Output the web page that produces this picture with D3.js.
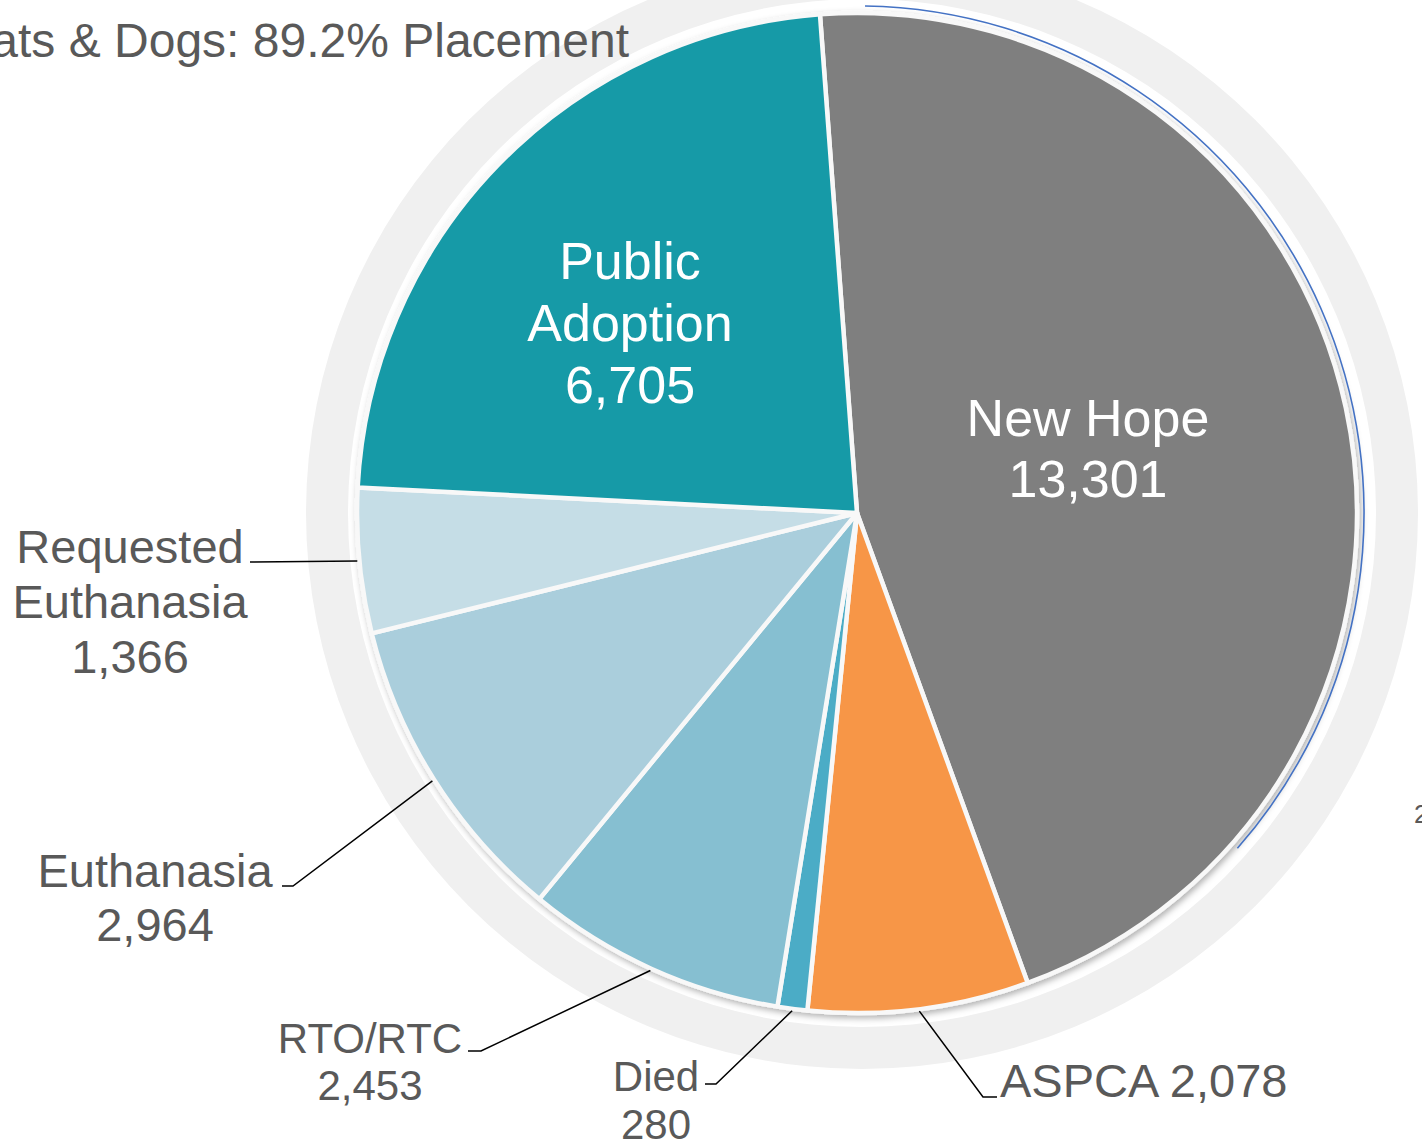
<!DOCTYPE html>
<html>
<head>
<meta charset="utf-8">
<script src="https://cdn.jsdelivr.net/npm/d3@7"></script>
<style>
  body { margin: 0; background: #fff; }
  svg { display: block; font-family: "Liberation Sans", Arial, sans-serif; }
</style>
</head>
<body>
<div id="svganchor"></div>
<script>
// Data
var categories = ["New Hope", "ASPCA", "Died", "RTO/RTC", "Euthanasia", "Requested Euthanasia", "Public Adoption"];
var values = [13301, 2078, 280, 2453, 2964, 1366, 6705];
var labelLines = [["New Hope"], ["ASPCA"], ["Died"], ["RTO/RTC"], ["Euthanasia"], ["Requested", "Euthanasia"], ["Public", "Adoption"]];
var title = "Cats & Dogs: 89.2% Placement";

// Styles
var colors = ["#7f7f7f", "#f79646", "#4bacc6", "#86bfd1", "#aacedc", "#c5dde6", "#169aa7"];

// Measurement
var w = 1422, h = 1142;
var cx = 857, cy = 513, radius = 500;
var startDeg = -4.25;

// label layout: x, first baseline, font size, line step, value on same line?
var labelLayout = [
	{ x: 1088, y: 436, size: 52, step: 61, inside: true },
	{ x: 1000, y: 1097, size: 47, step: 54, inline: true, anchor: "start", elbow: [983, 1097], end: [997, 1097] },
	{ x: 656, y: 1091, size: 42, step: 48, elbow: [716, 1084], end: [705, 1084] },
	{ x: 370, y: 1053, size: 42, step: 47, elbow: [481, 1051], end: [468, 1051] },
	{ x: 155, y: 887, size: 47, step: 54, elbow: [293, 886], end: [282, 886] },
	{ x: 130, y: 563, size: 47, step: 55, elbow: [300, 562], end: [250, 562] },
	{ x: 630, y: 279, size: 52, step: 62, inside: true }
];

var svg = d3.select("#svganchor")
	.append("svg")
	.attr("width", w)
	.attr("height", h);

var defs = svg.append("defs");
defs.append("filter")
	.attr("id", "shadow")
	.attr("x", "-10%").attr("y", "-10%")
	.attr("width", "120%").attr("height", "120%")
	.append("feDropShadow")
	.attr("dx", 2)
	.attr("dy", 3)
	.attr("stdDeviation", 3)
	.attr("flood-color", "#000")
	.attr("flood-opacity", 0.3);

// background ring
var ring = d3.arc()
	.innerRadius(514)
	.outerRadius(556)
	.startAngle(0)
	.endAngle(2 * Math.PI);

svg.append("path")
	.attr("transform", "translate(862,513)")
	.attr("d", ring)
	.attr("fill", "#f0f0f0");

// Title (clipped on the left like the source)
svg.append("text")
	.attr("x", 629)
	.attr("y", 57)
	.attr("text-anchor", "end")
	.attr("font-size", 48)
	.attr("fill", "#595959")
	.text(title);

// cut-off text on the right edge
svg.append("text")
	.attr("x", 1414)
	.attr("y", 823)
	.attr("font-size", 26)
	.attr("fill", "#595959")
	.text("2");

var pie = d3.pie()
	.sort(null)
	.startAngle(startDeg * Math.PI / 180)
	.endAngle((startDeg + 360) * Math.PI / 180);

var arcs = pie(values);

var arc = d3.arc()
	.innerRadius(0)
	.outerRadius(radius);

var edge = d3.arc()
	.innerRadius(radius + 2)
	.outerRadius(radius + 2);

var g = svg.append("g")
	.attr("transform", "translate(" + cx + "," + cy + ")");

var slices = g.append("g")
	.attr("filter", "url(#shadow)");

slices.selectAll("path")
	.data(arcs)
	.enter()
	.append("path")
	.attr("d", arc)
	.attr("fill", function(d, i) { return colors[i]; })
	.attr("stroke", "#f8f8f8")
	.attr("stroke-width", 4.5)
	.attr("stroke-linejoin", "round");

// selection outline on New Hope
var sel = d3.arc()
	.innerRadius(radius + 7)
	.outerRadius(radius + 7)
	.startAngle(arcs[0].startAngle + 0.09)
	.endAngle(arcs[0].endAngle - 0.5);

g.append("path")
	.attr("d", sel)
	.attr("fill", "none")
	.attr("stroke", "#4472c4")
	.attr("stroke-width", 1.6);

// Leader lines
arcs.forEach(function(d, i) {
	var lay = labelLayout[i];
	if (lay.inside) return;
	var p = edge.centroid(d);
	var pts = [[p[0] + cx, p[1] + cy], lay.elbow, lay.end];
	if (i === 5) pts = [[p[0] + cx, p[1] + cy], lay.end];
	svg.append("path")
		.attr("d", d3.line()(pts))
		.attr("fill", "none")
		.attr("stroke", "#000")
		.attr("stroke-width", 1.5);
});

// Labels
var fmt = d3.format(",");
arcs.forEach(function(d, i) {
	var lay = labelLayout[i];
	var lines = labelLines[i].slice();
	if (lay.inline) {
		lines[lines.length - 1] += " " + fmt(values[i]);
	} else {
		lines.push(fmt(values[i]));
	}
	var t = svg.append("text")
		.attr("text-anchor", lay.anchor || "middle")
		.attr("font-size", lay.size)
		.attr("fill", lay.inside ? "#ffffff" : "#595959");
	lines.forEach(function(s, k) {
		t.append("tspan")
			.attr("x", lay.x)
			.attr("y", lay.y + k * lay.step)
			.text(s);
	});
});
</script>
</body>
</html>
